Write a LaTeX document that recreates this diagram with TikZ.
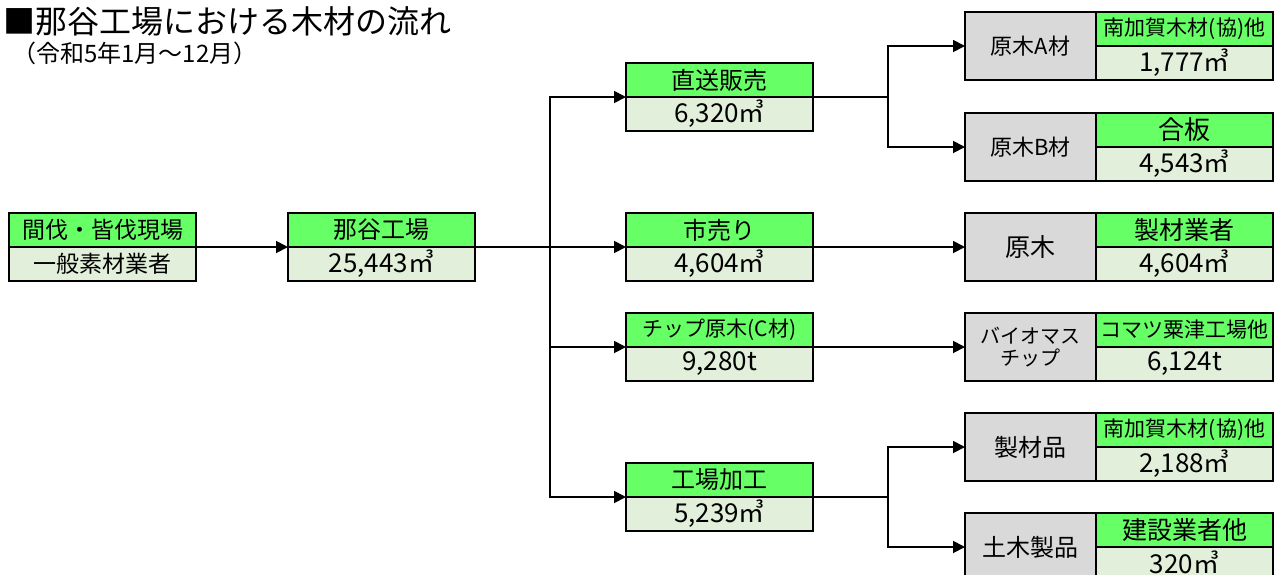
\documentclass[tikz,border=0pt]{standalone}
\usepackage{fontspec}
\setmainfont{Noto Sans CJK JP}
\usetikzlibrary{arrows.meta}
\definecolor{hdgreen}{HTML}{66FF66}
\definecolor{lightgreen}{HTML}{E2EFDA}
\definecolor{boxgray}{HTML}{D9D9D9}
\newcommand{\fs}[1]{\fontsize{#1}{#1}\selectfont}
\newcommand{\valtxt}[1]{\raisebox{1pt}{#1}}
\begin{document}
\begin{tikzpicture}[x=1pt,y=-1pt,
  boxbase/.style={draw=black, line width=2.6pt, inner sep=0pt, outer sep=0pt, anchor=north west, text=black},
  hdbox/.style={boxbase, fill=hdgreen, minimum height=34pt, font=\fs{24}},
  valbox/.style={boxbase, fill=lightgreen, minimum height=34pt, font=\fs{26}},
  graybox/.style={boxbase, fill=boxgray, minimum width=131pt, minimum height=68pt, font=\fs{24}, align=center},
  cw/.style={minimum width=187pt},
  rw/.style={minimum width=177pt},
  conn/.style={draw=black, line width=1.8pt},
  arr/.style={conn, -{Triangle[length=12pt,width=12pt]}},
  titletext/.style={inner sep=0pt, anchor=west, text=black}
]
\useasboundingbox (0,0) rectangle (1276,574);
\fill[white] (0,0) rectangle (1276,574);

% title
\node[titletext, font=\fs{32}] (title) at (3,21) {■那谷工場における木材の流れ};
\node[titletext, font=\fs{24}] (subtitle) at (12,53) {（令和5年1月～12月）};

% left boxes
\node[hdbox, cw, font=\fs{23}] (srcT) at (9,213) {間伐・皆伐現場};
\node[valbox, cw, font=\fs{23}] (srcB) at (9,247) {一般素材業者};
\node[hdbox, cw] (nayaT) at (288,213) {那谷工場};
\node[valbox, cw] (nayaB) at (288,247) {\valtxt{25,443㎥}};

% center boxes
\node[hdbox, cw] (c1T) at (626,63) {直送販売};
\node[valbox, cw] (c1B) at (626,97) {\valtxt{6,320㎥}};
\node[hdbox, cw] (c2T) at (626,213) {市売り};
\node[valbox, cw] (c2B) at (626,247) {\valtxt{4,604㎥}};
\node[hdbox, cw, font=\fs{21}] (c3T) at (626,313) {チップ原木(C材)};
\node[valbox, cw] (c3B) at (626,347) {\valtxt{9,280t}};
\node[hdbox, cw] (c4T) at (626,463) {工場加工};
\node[valbox, cw] (c4B) at (626,497) {\valtxt{5,239㎥}};

% right boxes
\node[graybox, font=\fs{22}] (r1) at (965,12) {原木A材};
\node[hdbox, rw, font=\fs{21}] (r1T) at (1096,12) {南加賀木材(協)他};
\node[valbox, rw] (r1B) at (1096,46) {\valtxt{1,777㎥}};

\node[graybox, font=\fs{22}] (r2) at (965,113) {原木B材};
\node[hdbox, rw, font=\fs{26}] (r2T) at (1096,113) {合板};
\node[valbox, rw] (r2B) at (1096,147) {\valtxt{4,543㎥}};

\node[graybox, font=\fs{25}] (r3) at (965,213) {原木};
\node[hdbox, rw, font=\fs{25}] (r3T) at (1096,213) {製材業者};
\node[valbox, rw] (r3B) at (1096,247) {\valtxt{4,604㎥}};

\node[graybox, font=\fs{20}] (r4) at (965,313) {バイオマス\\[2pt]チップ};
\node[hdbox, rw, font=\fs{21}] (r4T) at (1096,313) {コマツ粟津工場他};
\node[valbox, rw] (r4B) at (1096,347) {\valtxt{6,124t}};

\node[graybox] (r5) at (965,413) {製材品};
\node[hdbox, rw, font=\fs{21}] (r5T) at (1096,413) {南加賀木材(協)他};
\node[valbox, rw] (r5B) at (1096,447) {\valtxt{2,188㎥}};

\node[graybox] (r6) at (965,513) {土木製品};
\node[hdbox, rw, font=\fs{25}] (r6T) at (1096,513) {建設業者他};
\node[valbox, rw] (r6B) at (1096,547) {\raisebox{4pt}{320㎥}};

% connectors
\coordinate (j1) at (550,247);
\coordinate (j2) at (888,97);
\coordinate (j3) at (888,497);

\draw[arr] (srcT.south east) -- (nayaT.south west);
\draw[conn] (nayaT.south east) -- (j1);
\draw[arr] (j1) |- (c1T.south west);
\draw[arr] (j1) -- (c2T.south west);
\draw[arr] (j1) |- (c3T.south west);
\draw[arr] (j1) |- (c4T.south west);

\draw[conn] (c1T.south east) -- (j2);
\draw[arr] (j2) |- (r1.west);
\draw[arr] (j2) |- (r2.west);
\draw[arr] (c2T.south east) -- (r3.west);
\draw[arr] (c3T.south east) -- (r4.west);
\draw[conn] (c4T.south east) -- (j3);
\draw[arr] (j3) |- (r5.west);
\draw[arr] (j3) |- (r6.west);
\end{tikzpicture}
\end{document}
